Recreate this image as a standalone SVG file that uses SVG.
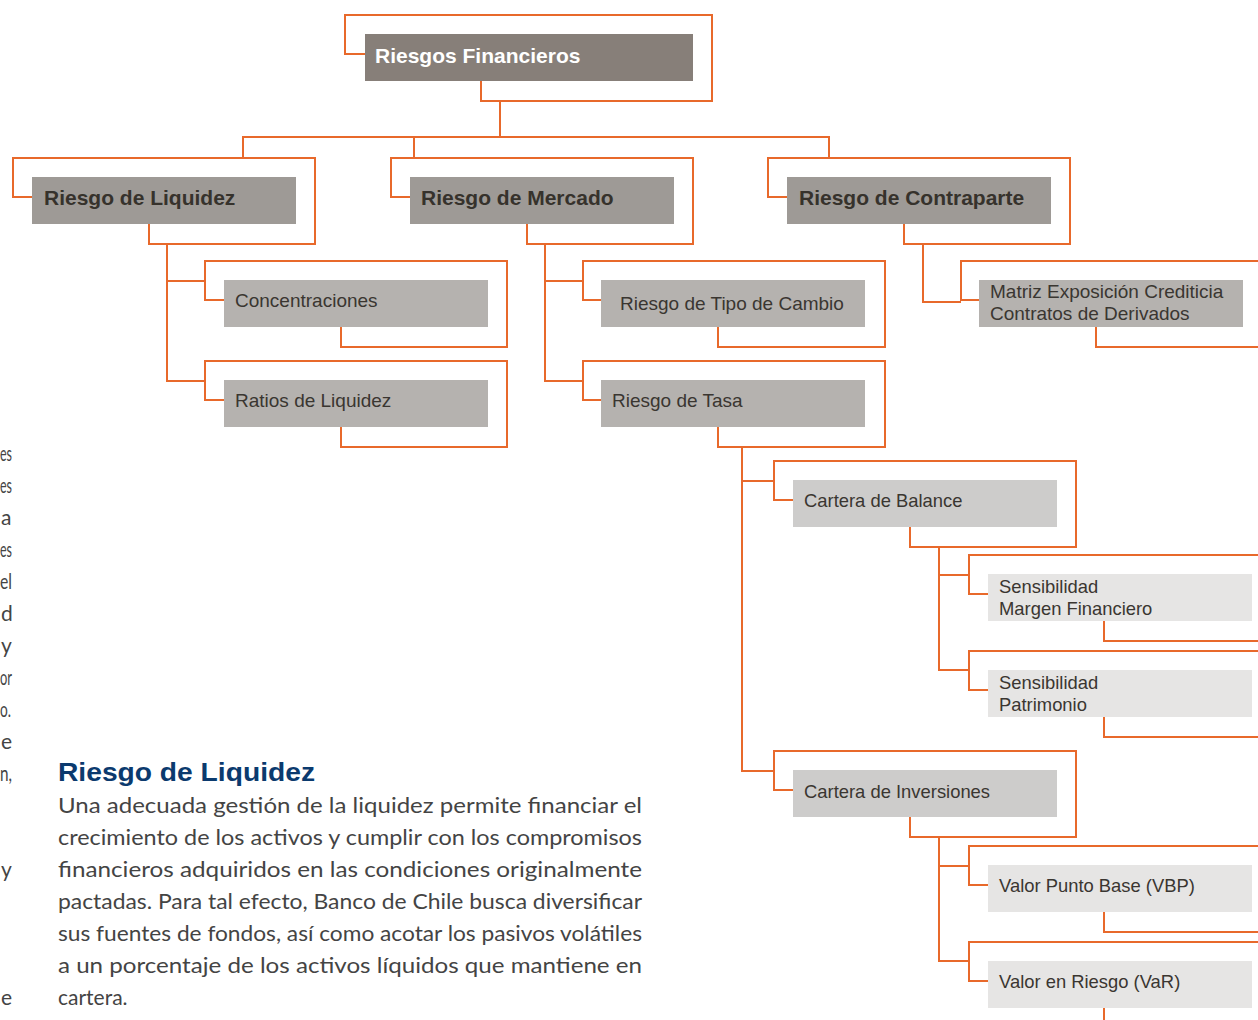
<svg xmlns="http://www.w3.org/2000/svg" width="1258" height="1020" viewBox="0 0 1258 1020">
<style>
.fr{fill:none;stroke:#e8692b;stroke-width:2;stroke-linejoin:miter}
.cn{fill:none;stroke:#e8692b;stroke-width:2}
.b0{fill:#877f79}
.b2{fill:#9e9a96}
.b3{fill:#b5b2af}
.b4{fill:#cdcccb}
.b5{fill:#e6e5e4}
.tb{font-family:"Liberation Sans",Arial,sans-serif;font-weight:bold;font-size:21px;fill:#36322c}
.tw{font-family:"Liberation Sans",Arial,sans-serif;font-weight:bold;font-size:21px;fill:#ffffff}
.tn{font-family:"Liberation Sans",Arial,sans-serif;font-size:19px;fill:#3a3631}
.ts{font-family:"Liberation Sans",Arial,sans-serif;font-size:18.4px;fill:#3a3631}
.h{font-family:"Liberation Sans",Arial,sans-serif;font-weight:bold;font-size:26px;fill:#0b3a6e}
.p{font-family:Lato,"Open Sans",sans-serif;font-weight:400;font-size:21px;fill:#444444}
</style>
<rect width="1258" height="1020" fill="#ffffff"/>

<g id="connectors">
<path class="cn" d="M500,101 V137"/>
<path class="cn" d="M243,158 V137 H829 V158"/>
<path class="cn" d="M414,137 V158"/>
<path class="cn" d="M167,244 V381 H205"/>
<path class="cn" d="M167,281 H205"/>
<path class="cn" d="M545,244 V381 H583"/>
<path class="cn" d="M545,281 H583"/>
<path class="cn" d="M923,244 V302 H961"/>
<path class="cn" d="M742,447 V771 H774"/>
<path class="cn" d="M742,481 H774"/>
<path class="cn" d="M939,547 V670 H969"/>
<path class="cn" d="M939,575 H969"/>
<path class="cn" d="M939,837 V961 H969"/>
<path class="cn" d="M939,866 H969"/>
</g>

<g id="n-riesgos-financieros">
<path class="fr" d="M365,54 H345 V15 H712 V101 H481 V81"/>
<rect class="b0" x="365" y="34" width="328" height="47"/>
<text class="tw" x="375" y="63">Riesgos Financieros</text>
</g>

<g id="n-riesgo-liquidez">
<path class="fr" d="M32,197 H13 V158 H315 V244 H149 V224"/>
<rect class="b2" x="32" y="177" width="264" height="47"/>
<text class="tb" x="44" y="205">Riesgo de Liquidez</text>
</g>

<g id="n-riesgo-mercado">
<path class="fr" d="M410,197 H391 V158 H693 V244 H527 V224"/>
<rect class="b2" x="410" y="177" width="264" height="47"/>
<text class="tb" x="421" y="205">Riesgo de Mercado</text>
</g>

<g id="n-riesgo-contraparte">
<path class="fr" d="M787,197 H768 V158 H1070 V244 H904 V224"/>
<rect class="b2" x="787" y="177" width="264" height="47"/>
<text class="tb" x="799" y="205">Riesgo de Contraparte</text>
</g>

<g id="n-concentraciones">
<path class="fr" d="M224,300 H205 V261 H507 V347 H341 V327"/>
<rect class="b3" x="224" y="280" width="264" height="47"/>
<text class="tn" x="235" y="307">Concentraciones</text>
</g>

<g id="n-ratios-liquidez">
<path class="fr" d="M224,400 H205 V361 H507 V447 H341 V427"/>
<rect class="b3" x="224" y="380" width="264" height="47"/>
<text class="tn" x="235" y="407">Ratios de Liquidez</text>
</g>

<g id="n-tipo-cambio">
<path class="fr" d="M601,300 H583 V261 H885 V347 H718 V327"/>
<rect class="b3" x="601" y="280" width="264" height="47"/>
<text class="tn" x="620" y="310">Riesgo de Tipo de Cambio</text>
</g>

<g id="n-riesgo-tasa">
<path class="fr" d="M601,400 H583 V361 H885 V447 H718 V427"/>
<rect class="b3" x="601" y="380" width="264" height="47"/>
<text class="tn" x="612" y="407">Riesgo de Tasa</text>
</g>

<g id="n-matriz">
<path class="fr" d="M979,300 H961 V261 H1262 V347 H1096 V327"/>
<rect class="b3" x="979" y="280" width="264" height="47"/>
<text class="tn" x="990" y="298">Matriz Exposición Crediticia</text>
<text class="tn" x="990" y="320">Contratos de Derivados</text>
</g>

<g id="n-cartera-balance">
<path class="fr" d="M793,500 H774 V461 H1076 V547 H910 V527"/>
<rect class="b4" x="793" y="480" width="264" height="47"/>
<text class="ts" x="804" y="507">Cartera de Balance</text>
</g>

<g id="n-sens-margen">
<path class="fr" d="M988,594 H969 V555 H1271 V641 H1104 V621"/>
<rect class="b5" x="988" y="574" width="264" height="47"/>
<text class="ts" x="999" y="593">Sensibilidad</text>
<text class="ts" x="999" y="615">Margen Financiero</text>
</g>

<g id="n-sens-patrimonio">
<path class="fr" d="M988,690 H969 V651 H1271 V737 H1104 V717"/>
<rect class="b5" x="988" y="670" width="264" height="47"/>
<text class="ts" x="999" y="689">Sensibilidad</text>
<text class="ts" x="999" y="711">Patrimonio</text>
</g>

<g id="n-cartera-inversiones">
<path class="fr" d="M793,790 H774 V751 H1076 V837 H910 V817"/>
<rect class="b4" x="793" y="770" width="264" height="47"/>
<text class="ts" x="804" y="798">Cartera de Inversiones</text>
</g>

<g id="n-vbp">
<path class="fr" d="M988,885 H969 V846 H1271 V932 H1104 V912"/>
<rect class="b5" x="988" y="865" width="264" height="47"/>
<text class="ts" x="999" y="892">Valor Punto Base (VBP)</text>
</g>

<g id="n-var">
<path class="fr" d="M988,981 H969 V942 H1271 V1028 H1104 V1008"/>
<rect class="b5" x="988" y="961" width="264" height="47"/>
<text class="ts" x="999" y="988">Valor en Riesgo (VaR)</text>
</g>

<g id="left-column-text" class="p">
<text x="0" y="461" textLength="12" lengthAdjust="spacingAndGlyphs">es</text>
<text x="0" y="493" textLength="12" lengthAdjust="spacingAndGlyphs">es</text>
<text x="1" y="525">a</text>
<text x="0" y="557" textLength="12" lengthAdjust="spacingAndGlyphs">es</text>
<text x="0" y="589" textLength="12" lengthAdjust="spacingAndGlyphs">el</text>
<text x="1" y="621">d</text>
<text x="1" y="653">y</text>
<text x="0" y="685" textLength="12" lengthAdjust="spacingAndGlyphs">or</text>
<text x="0" y="717" textLength="11" lengthAdjust="spacingAndGlyphs">o.</text>
<text x="1" y="749">e</text>
<text x="0" y="781" textLength="12" lengthAdjust="spacingAndGlyphs">n,</text>
<text x="1" y="877">y</text>
<text x="1" y="1005">e</text>
</g>

<g id="paragraph">
<text class="h" x="58" y="781" textLength="257" lengthAdjust="spacingAndGlyphs">Riesgo de Liquidez</text>
<text class="p" x="58" y="813" textLength="584" lengthAdjust="spacingAndGlyphs">Una adecuada gestión de la liquidez permite financiar el</text>
<text class="p" x="58" y="845" textLength="584" lengthAdjust="spacingAndGlyphs">crecimiento de los activos y cumplir con los compromisos</text>
<text class="p" x="58" y="877" textLength="584" lengthAdjust="spacingAndGlyphs">financieros adquiridos en las condiciones originalmente</text>
<text class="p" x="58" y="909" textLength="584" lengthAdjust="spacingAndGlyphs">pactadas. Para tal efecto, Banco de Chile busca diversificar</text>
<text class="p" x="58" y="941" textLength="584" lengthAdjust="spacingAndGlyphs">sus fuentes de fondos, así como acotar los pasivos volátiles</text>
<text class="p" x="58" y="973" textLength="584" lengthAdjust="spacingAndGlyphs">a un porcentaje de los activos líquidos que mantiene en</text>
<text class="p" x="58" y="1005">cartera.</text>
</g>
</svg>
